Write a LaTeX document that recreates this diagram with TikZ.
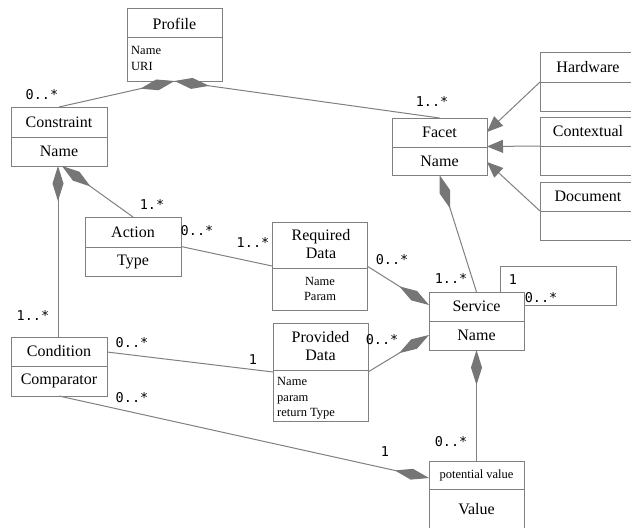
\documentclass[tikz,border=0pt]{standalone}
\usepackage{fontspec}
\setmainfont{Liberation Serif}
\newfontfamily\monofont{DejaVu Sans Mono}
\usetikzlibrary{arrows.meta}
\definecolor{lc}{RGB}{128,128,128}
\definecolor{dc}{RGB}{118,118,118}
\begin{document}
\begin{tikzpicture}[x=1pt,y=-1pt,
 box/.style={draw=lc, line width=1pt, inner sep=0pt, outer sep=0pt},
 title/.style={font=\fontsize{16}{18}\selectfont, inner sep=0pt, align=center},
 attr/.style={font=\fontsize{12.5}{15.5}\selectfont, inner sep=0pt},
 mult/.style={font=\monofont\fontsize{13.5}{15}\selectfont, inner sep=0pt},
 conn/.style={draw=lc, line width=1pt},
 compS/.style={conn, {Diamond[length=35pt,width=11pt,fill=dc,color=dc]}-},
 compE/.style={conn, -{Diamond[length=35pt,width=11pt,fill=dc,color=dc]}},
 gen/.style={conn, -{Triangle[length=16pt,width=13pt,fill=dc,color=dc]}},
 divline/.style={draw=lc, line width=1pt}]
\useasboundingbox (0,0) rectangle (631,527);
\clip (0,0) rectangle (631,527);
\fill[white] (0,0) rectangle (631,527);

% boxes
\node[box, minimum width=95pt, minimum height=72pt] (profile) at (174.5,45) {};
\node[box, minimum width=96pt, minimum height=59pt] (constraint) at (59,136.5) {};
\node[box, minimum width=95pt, minimum height=57pt] (facet) at (439.5,146.5) {};
\node[box, minimum width=96pt, minimum height=58pt] (hardware) at (588,82) {};
\node[box, minimum width=96pt, minimum height=58pt] (contextual) at (588,146) {};
\node[box, minimum width=96pt, minimum height=58pt] (document) at (588,211) {};
\node[box, minimum width=96pt, minimum height=59pt] (action) at (133,246.5) {};
\node[box, minimum width=95pt, minimum height=88pt] (required) at (319.5,266) {};
\node[box, minimum width=95pt, minimum height=98pt] (provided) at (320.5,372) {};
\node[box, minimum width=96pt, minimum height=59pt] (condition) at (59,366.5) {};
\node[box, minimum width=95pt, minimum height=58pt] (service) at (476.5,321) {};
\node[box, minimum width=95pt, minimum height=74pt] (pv) at (476.5,498) {};

% dividers
\draw[divline] (127,38) -- (222,38);
\draw[divline] (11,137) -- (107,137);
\draw[divline] (392,147) -- (487,147);
\draw[divline] (540,82) -- (636,82);
\draw[divline] (540,146) -- (636,146);
\draw[divline] (540,211) -- (636,211);
\draw[divline] (85,247) -- (181,247);
\draw[divline] (272,268) -- (367,268);
\draw[divline] (273,370) -- (368,370);
\draw[divline] (11,366) -- (107,366);
\draw[divline] (429,321) -- (524,321);
\draw[divline] (429,489) -- (524,489);

% texts
\node[title] (tprofile) at (174.5,23.5) {Profile};
\node[attr, anchor=west, align=left] (aprofile) at (131,58.5) {Name\\URI};
\node[title] (tconstraint) at (59,122) {Constraint};
\node[title] (aconstraint) at (59,151.5) {Name};
\node[title] (tfacet) at (439.5,132.5) {Facet};
\node[title] (afacet) at (439.5,161) {Name};
\node[title] (thardware) at (588,67.5) {Hardware};
\node[title] (tcontextual) at (588,131.5) {Contextual};
\node[title] (tdocument) at (588,196.5) {Document};
\node[title] (taction) at (133,232) {Action};
\node[title] (aaction) at (133,261.5) {Type};
\node[title] (trequired) at (321,244) {Required\\Data};
\node[attr, align=center] (arequired) at (320,289) {Name\\Param};
\node[title] (tprovided) at (320.5,346) {Provided\\Data};
\node[attr, anchor=west, align=left] (aprovided) at (277,398.5) {Name\\param\\return Type};
\node[title] (tcondition) at (59,351.5) {Condition};
\node[title] (acondition) at (59,381) {Comparator};
\node[title] (tservice) at (476.5,306.5) {Service};
\node[title] (aservice) at (476.5,335.5) {Name};
\node[attr] (tpv) at (476.5,475) {potential value};
\node[title] (apv) at (476.5,509) {Value};

% connectors
\draw[compS] (profile.south) -- (constraint.north);
\draw[compS] (profile.south) -- (facet.north);
\draw[gen] (hardware.west) -- ([yshift=14.5pt]facet.east);
\draw[gen] (contextual.west) -- (facet.east);
\draw[gen] (document.west) -- ([yshift=-15.5pt]facet.east);
\draw[compS] (facet.south) -- (service.north);
\draw[compS] ([xshift=-1pt]constraint.south) -- ([xshift=-1pt]condition.north);
\draw[compS] ([xshift=3pt]constraint.south) -- (action.north);
\draw[conn] (action.east) -- (required.west);
\draw[compE] (required.east) -- ([yshift=16pt]service.west);
\draw[compE] (provided.east) -- ([yshift=-14pt]service.west);
\draw[conn] ([yshift=14.5pt]condition.east) -- (provided.west);
\draw[compE] (condition.south) -- ([yshift=20pt]pv.west);
\draw[compS] (service.south) -- (pv.north);
\coordinate (loopc) at (616,266);
\draw[conn] ([xshift=23.5pt]service.north) |- (loopc) |- ([yshift=16pt]service.east);

% multiplicities
\node[mult] (m1) at (42,95) {0..*};
\node[mult] (m2) at (432,101) {1..*};
\node[mult] (m3) at (152,204) {1.*};
\node[mult] (m4) at (197,231) {0..*};
\node[mult] (m5) at (253,242) {1..*};
\node[mult] (m6) at (392,260) {0..*};
\node[mult] (m7) at (451,278) {1..*};
\node[mult] (m8) at (513,280) {1};
\node[mult] (m9) at (541,298) {0..*};
\node[mult] (m10) at (33,315) {1..*};
\node[mult] (m11) at (132,343) {0..*};
\node[mult] (m12) at (253,360) {1};
\node[mult] (m13) at (382,340) {0..*};
\node[mult] (m14) at (132,398) {0..*};
\node[mult] (m15) at (385,452) {1};
\node[mult] (m16) at (451,442) {0..*};
\end{tikzpicture}
\end{document}
